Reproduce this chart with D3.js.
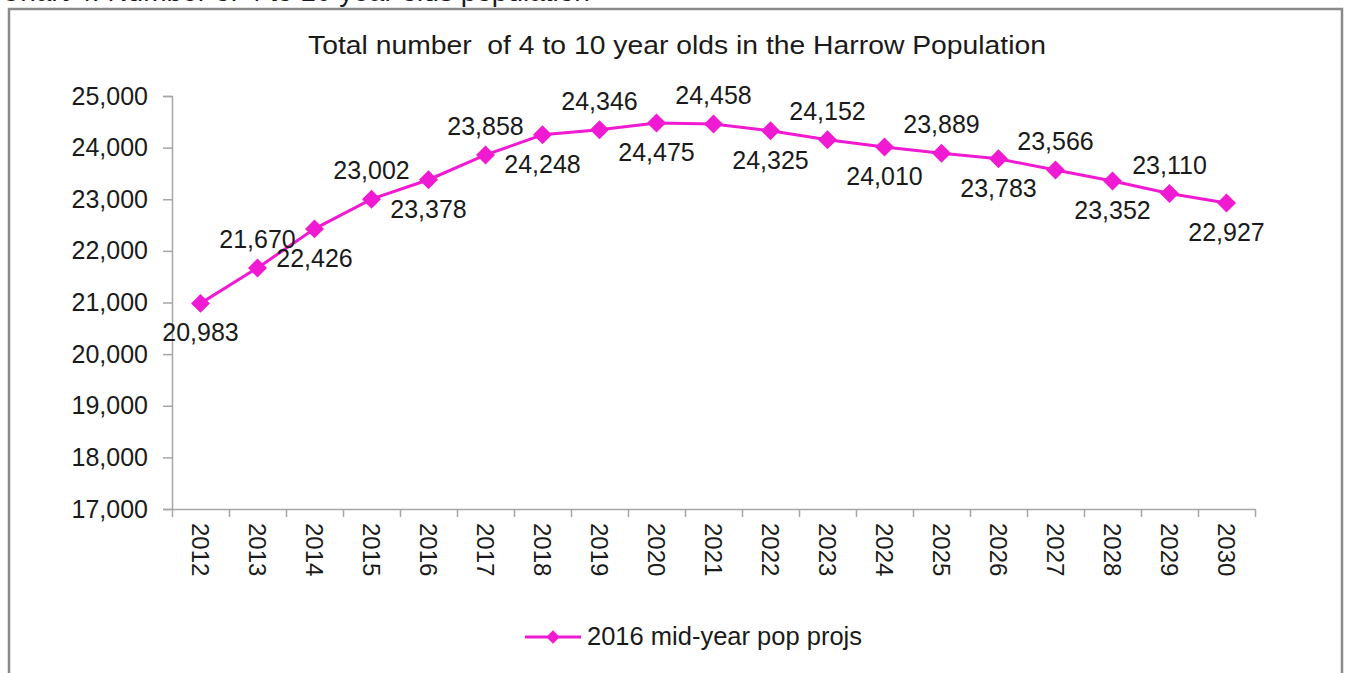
<!DOCTYPE html>
<html>
<head>
<meta charset="utf-8">
<script src="https://cdn.jsdelivr.net/npm/d3@7"></script>
<style>
  body { margin: 0; background: #fff; }
  text { font-family: "Liberation Sans", Arial, sans-serif; fill: #1a1a1a; }
</style>
</head>
<body>
<div id="chart"></div>
<script>
// chart values
var years = ["2012","2013","2014","2015","2016","2017","2018","2019","2020","2021",
             "2022","2023","2024","2025","2026","2027","2028","2029","2030"];
var pop = [20983, 21670, 22426, 23002, 23378, 23858, 24248, 24346, 24475, 24458,
           24325, 24152, 24010, 23889, 23783, 23566, 23352, 23110, 22927];
var yTicks = [17000, 18000, 19000, 20000, 21000, 22000, 23000, 24000, 25000];
var seriesName = "2016 mid-year pop projs";
var chartTitle = "Total number  of 4 to 10 year olds in the Harrow Population";
var pageCaption = "Chart 4: Number of 4 to 10 year olds population";

var svgWidth = 1345, svgHeight = 673;
var margin = {top: 96, right: 90, bottom: 164, left: 172},
    width = svgWidth - margin.left - margin.right,
    height = svgHeight - margin.top - margin.bottom;
var pink = "#f01ad2";
var axisGrey = "#a6a6a6";
var labelSize = "25px";

var svg = d3.select("#chart")
  .append("svg")
  .attr("width", svgWidth)
  .attr("height", svgHeight);

// caption cut off by the top of the page
svg.append("text")
  .attr("x", 0)
  .attr("y", 0.5)
  .attr("font-size", "28px")
  .text(pageCaption);

// outer frame of the chart object
svg.append("rect")
  .attr("x", 9)
  .attr("y", 9)
  .attr("width", 1333)
  .attr("height", 700)
  .attr("fill", "none")
  .attr("stroke", "#8a8a8a")
  .attr("stroke-width", 2.5);

svg.append("text")
  .attr("x", 308)
  .attr("y", 54)
  .attr("font-size", "25px")
  .attr("textLength", 738)
  .attr("lengthAdjust", "spacingAndGlyphs")
  .style("white-space", "pre")
  .text(chartTitle);

var chartgroup = svg.append("g")
  .attr("transform", "translate(" + margin.left + "," + margin.top + ")");

var x = d3.scaleBand()
  .domain(years)
  .range([0, width]);

// boundaries between the categories, where Excel puts the ticks
var xEdge = d3.scaleLinear()
  .domain([0, years.length])
  .range([0, width]);

var y = d3.scaleLinear()
  .domain([17000, 25000])
  .range([height, 0]);

// y axis
var yAxis = chartgroup.append("g")
  .call(d3.axisLeft(y).tickValues(yTicks).tickFormat(d3.format(",")).tickSize(9).tickPadding(15));
yAxis.select(".domain").attr("stroke", axisGrey).attr("stroke-width", 1.5);
yAxis.selectAll(".tick line").attr("stroke", axisGrey).attr("stroke-width", 1.5);
yAxis.selectAll(".tick text")
  .attr("font-size", labelSize)
  .attr("font-family", "Liberation Sans, Arial, sans-serif")
  .attr("fill", "#1a1a1a");

// x axis ticks on the boundaries
var xTicks = chartgroup.append("g")
  .attr("transform", "translate(0," + height + ")")
  .call(d3.axisBottom(xEdge).tickValues(d3.range(years.length + 1)).tickFormat("").tickSize(8).tickSizeOuter(0));
xTicks.select(".domain").attr("stroke", axisGrey).attr("stroke-width", 1.5);
xTicks.selectAll(".tick line").attr("stroke", axisGrey).attr("stroke-width", 1.5);

// x axis labels, rotated
var xLabels = chartgroup.append("g")
  .attr("transform", "translate(0," + height + ")")
  .call(d3.axisBottom(x).tickSize(0).tickPadding(0));
xLabels.select(".domain").remove();
xLabels.selectAll(".tick text")
  .attr("font-size", "24px")
  .attr("font-family", "Liberation Sans, Arial, sans-serif")
  .attr("fill", "#1a1a1a")
  .attr("text-anchor", "start")
  .attr("transform", "translate(0,14) rotate(90)")
  .attr("x", 0)
  .attr("y", 0)
  .attr("dy", "0.35em");

var cx = function(d, i) { return x(years[i]) + x.bandwidth() / 2; };

// line
chartgroup.append("path")
  .datum(pop)
  .attr("fill", "none")
  .attr("stroke", pink)
  .attr("stroke-width", 3)
  .attr("d", d3.line().x(cx).y(function(d) { return y(d); }));

// diamond markers
var diamond = d3.symbol().type(d3.symbolSquare).size(180);
chartgroup.selectAll(".marker")
  .data(pop)
  .enter()
  .append("path")
    .attr("class", "marker")
    .attr("d", diamond)
    .attr("fill", pink)
    .attr("transform", function(d, i) {
      return "translate(" + cx(d, i) + "," + y(d) + ") rotate(45)";
    });

// data labels, alternating below / above
chartgroup.selectAll(".dlabel")
  .data(pop)
  .enter()
  .append("text")
    .attr("class", "dlabel")
    .attr("x", cx)
    .attr("y", function(d, i) { return y(d) + (i % 2 === 0 ? 38 : -20); })
    .attr("text-anchor", "middle")
    .attr("font-size", labelSize)
    .text(function(d) { return d3.format(",")(d); });

// legend
var legend = svg.append("g")
  .attr("transform", "translate(525,637)");
legend.append("line")
  .attr("x1", 0).attr("x2", 56)
  .attr("y1", 0).attr("y2", 0)
  .attr("stroke", pink)
  .attr("stroke-width", 3);
legend.append("path")
  .attr("d", d3.symbol().type(d3.symbolSquare).size(90))
  .attr("fill", pink)
  .attr("transform", "translate(28,0) rotate(45)");
legend.append("text")
  .attr("x", 62)
  .attr("y", 8)
  .attr("font-size", "25.5px")
  .text(seriesName);
</script>
</body>
</html>
